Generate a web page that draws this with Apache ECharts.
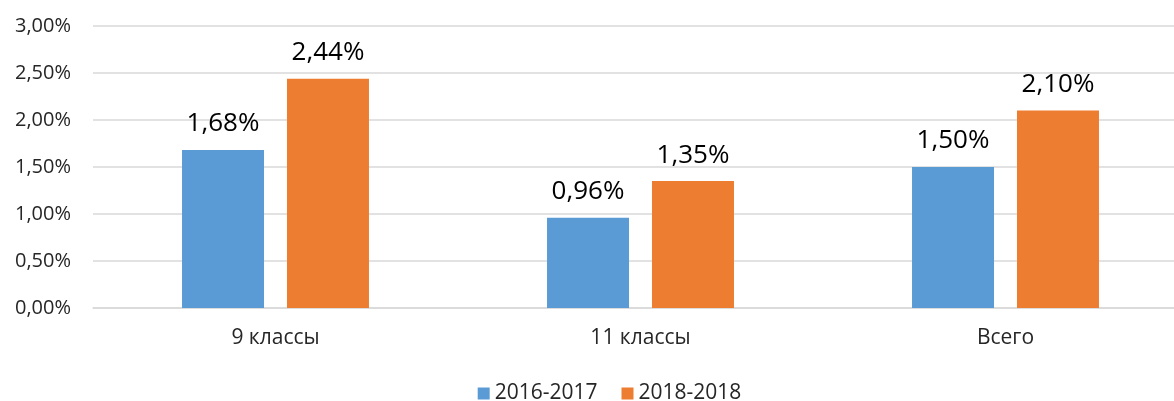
<!DOCTYPE html>
<html lang="ru">
<head>
    <meta charset="UTF-8">
    <title>eCharts</title>
    <script src="https://cdn.jsdelivr.net/npm/echarts@6.0.0/dist/echarts.min.js"></script>
    <style>body { margin: 0; background: #fff; overflow: hidden; }</style>
</head>
<body>
    <!-- the original chart is wider than the picture; its right side is cut off -->
    <div id="main" style="width: 1219px;height:401px;"></div>
    <script type="text/javascript">
        // data (percent)
        const categories = ['9 классы', '11 классы', 'Всего'];
        const seriesNames = ['2016-2017', '2018-2018'];
        const values2016 = [1.68, 0.96, 1.50];
        const values2018 = [2.44, 1.35, 2.10];
        const yTicks = { min: 0, max: 3, step: 0.5 };

        const fmt = v => v.toFixed(2).replace('.', ',') + '%';
        const font = '"Open Sans", sans-serif';

        let myChart = echarts.init(document.getElementById('main'));

        let options = {
            animation: false,
            textStyle: { fontFamily: font },
            grid: { left: 93, right: 31, top: 26, bottom: 93 },
            legend: {
                data: seriesNames,
                top: 378,
                left: 'center',
                icon: 'rect',
                itemWidth: 12,
                itemHeight: 12,
                itemGap: 24,
                itemStyle: { borderWidth: 0 },
                textStyle: { fontSize: 21, color: '#262626', fontFamily: font }
            },
            xAxis: {
                type: 'category',
                data: categories,
                axisTick: { show: false },
                axisLine: { lineStyle: { color: '#d9d9d9', width: 1.5 } },
                axisLabel: { fontSize: 21, color: '#262626', margin: 20, fontFamily: font }
            },
            yAxis: {
                type: 'value',
                min: yTicks.min,
                max: yTicks.max,
                interval: yTicks.step,
                axisLabel: { fontSize: 20, color: '#262626', margin: 22, formatter: fmt, fontFamily: font },
                splitLine: { lineStyle: { color: '#d9d9d9', width: 1.5 } }
            },
            series: [
                {
                    name: seriesNames[0],
                    type: 'bar',
                    data: values2016,
                    barWidth: 82,
                    barGap: '28%',
                    itemStyle: { color: '#5b9bd5' },
                    label: { show: true, position: 'top', distance: 13, fontSize: 26, color: '#000', formatter: p => fmt(p.value), fontFamily: font }
                },
                {
                    name: seriesNames[1],
                    type: 'bar',
                    data: values2018,
                    barWidth: 82,
                    barGap: '28%',
                    itemStyle: { color: '#ed7d31' },
                    label: { show: true, position: 'top', distance: 13, fontSize: 26, color: '#000', formatter: p => fmt(p.value), fontFamily: font }
                }
            ]
        };

        myChart.setOption(options);
    </script>
</body>
</html>
